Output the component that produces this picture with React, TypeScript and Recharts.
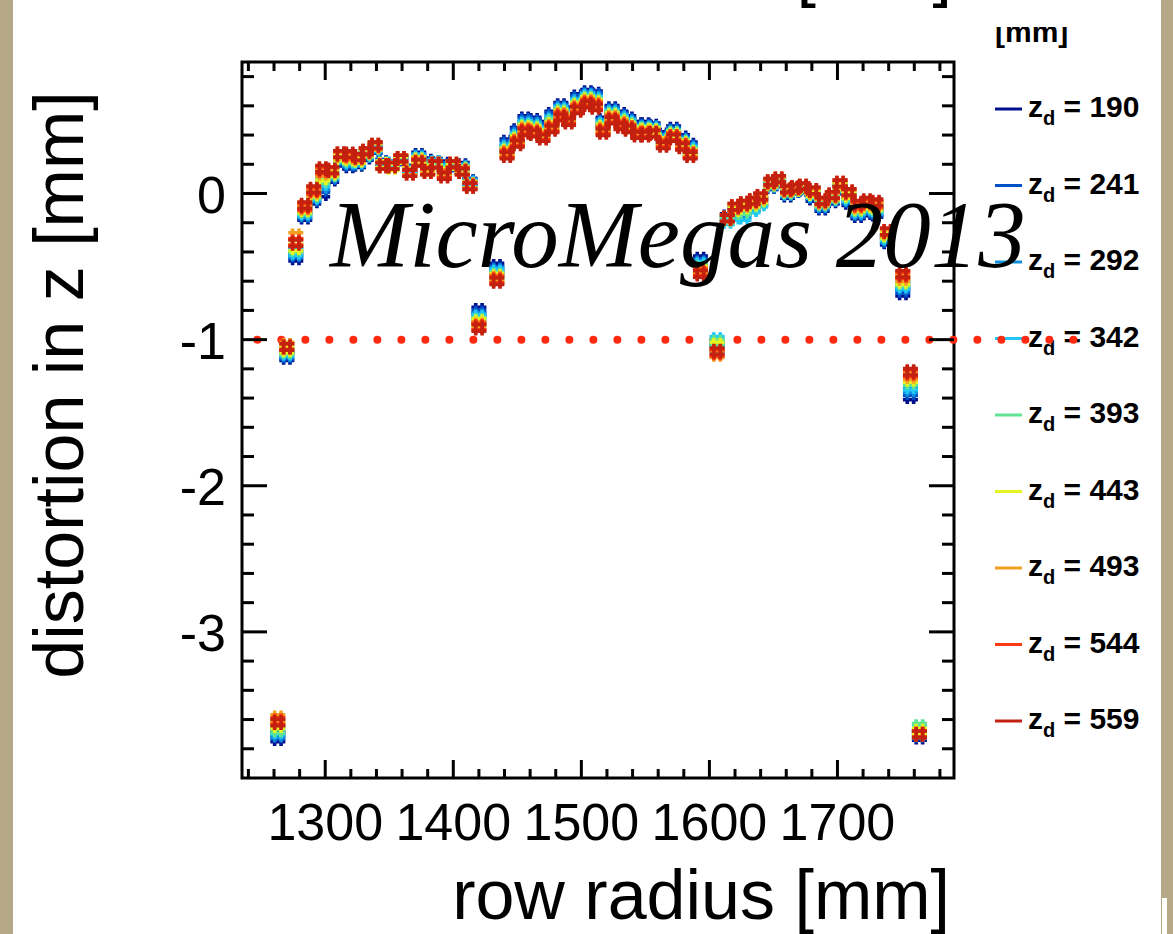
import { ScatterChart, Scatter, XAxis, YAxis, ReferenceLine, ReferenceArea } from 'recharts';

// pad-row radius [mm], shared by all drift distances
const radius = [
  1263, 1270, 1277, 1284, 1291, 1298, 1305, 1312, 1319, 1326, 1332, 1339, 1345, 1352, 1359, 1366, 1373, 1380, 1386, 1393, 1400, 1407, 1413,
  1420, 1434,
  1442, 1450, 1456, 1463, 1470, 1477, 1484, 1490, 1497, 1505, 1511, 1517, 1524, 1531, 1537, 1544, 1550, 1556, 1564, 1572, 1579, 1585,
  1593, 1606,
  1614, 1620, 1627, 1634, 1640, 1648, 1654, 1661, 1667, 1673, 1681, 1688, 1696, 1702, 1709, 1716, 1723, 1730,
  1739, 1751, 1757, 1764,
];

// distortion in z [mm] per drift distance z_d
const zd190 = [
  -3.73, -1.12, -0.44, -0.16, -0.05, 0.0, 0.1, 0.21, 0.19, 0.2, 0.25, 0.3, 0.21, 0.2, 0.22, 0.17, 0.26, 0.22, 0.21, 0.2, 0.18, 0.19, 0.08,
  -0.8, -0.5,
  0.35, 0.43, 0.51, 0.5, 0.47, 0.54, 0.6, 0.57, 0.66, 0.69, 0.68, 0.5, 0.58, 0.54, 0.51, 0.47, 0.47, 0.46, 0.4, 0.44, 0.38, 0.33,
  -0.45, -1.06,
  -0.16, -0.12, -0.1, -0.08, -0.05, 0.05, 0.07, -0.01, 0.02, 0.03, -0.03, -0.1, -0.05, 0.02, -0.06, -0.15, -0.13, -0.14,
  -0.33, -0.68, -1.39, -3.72,
];
const zd241 = [
  -3.71, -1.11, -0.42, -0.15, -0.04, 0.03, 0.11, 0.22, 0.2, 0.21, 0.26, 0.3, 0.21, 0.19, 0.22, 0.17, 0.25, 0.21, 0.21, 0.19, 0.18, 0.18, 0.08,
  -0.82, -0.52,
  0.34, 0.42, 0.5, 0.49, 0.46, 0.53, 0.59, 0.56, 0.65, 0.68, 0.67, 0.49, 0.57, 0.53, 0.5, 0.46, 0.46, 0.45, 0.39, 0.43, 0.37, 0.32,
  -0.47, -1.04,
  -0.17, -0.13, -0.12, -0.09, -0.06, 0.05, 0.07, 0.0, 0.02, 0.03, -0.02, -0.09, -0.04, 0.03, -0.05, -0.14, -0.12, -0.13,
  -0.32, -0.66, -1.36, -3.71,
];
const zd292 = [
  -3.7, -1.1, -0.41, -0.14, -0.03, 0.05, 0.12, 0.23, 0.21, 0.21, 0.26, 0.31, 0.2, 0.19, 0.23, 0.16, 0.25, 0.2, 0.21, 0.18, 0.19, 0.18, 0.07,
  -0.84, -0.53,
  0.32, 0.4, 0.48, 0.47, 0.44, 0.51, 0.58, 0.55, 0.63, 0.67, 0.65, 0.48, 0.56, 0.52, 0.49, 0.45, 0.45, 0.45, 0.38, 0.42, 0.36, 0.31,
  -0.48, -1.02,
  -0.18, -0.14, -0.14, -0.1, -0.06, 0.06, 0.08, 0.0, 0.03, 0.04, -0.01, -0.08, -0.04, 0.03, -0.04, -0.13, -0.11, -0.12,
  -0.31, -0.64, -1.34, -3.7,
];
const zd342 = [
  -3.68, -1.09, -0.4, -0.13, -0.02, 0.07, 0.13, 0.24, 0.22, 0.22, 0.27, 0.31, 0.2, 0.2, 0.23, 0.16, 0.24, 0.19, 0.21, 0.17, 0.19, 0.17, 0.07,
  -0.85, -0.54,
  0.31, 0.39, 0.47, 0.46, 0.43, 0.5, 0.57, 0.54, 0.62, 0.66, 0.64, 0.47, 0.55, 0.51, 0.48, 0.44, 0.44, 0.44, 0.37, 0.41, 0.35, 0.3,
  -0.49, -1.0,
  -0.19, -0.16, -0.16, -0.11, -0.07, 0.06, 0.08, 0.01, 0.03, 0.04, -0.01, -0.07, -0.03, 0.04, -0.03, -0.12, -0.1, -0.11,
  -0.3, -0.63, -1.32, -3.66,
];
const zd393 = [
  -3.67, -1.08, -0.38, -0.12, -0.01, 0.09, 0.13, 0.24, 0.23, 0.23, 0.27, 0.32, 0.2, 0.19, 0.23, 0.15, 0.23, 0.18, 0.2, 0.16, 0.19, 0.17, 0.06,
  -0.87, -0.56,
  0.3, 0.38, 0.46, 0.45, 0.42, 0.49, 0.56, 0.53, 0.61, 0.65, 0.63, 0.46, 0.54, 0.5, 0.47, 0.44, 0.44, 0.43, 0.36, 0.41, 0.35, 0.29,
  -0.51, -1.02,
  -0.18, -0.13, -0.12, -0.08, -0.05, 0.06, 0.08, 0.01, 0.03, 0.04, 0.0, -0.07, -0.03, 0.05, -0.02, -0.11, -0.09, -0.1,
  -0.29, -0.61, -1.29, -3.65,
];
const zd443 = [
  -3.64, -1.07, -0.37, -0.11, 0.0, 0.11, 0.14, 0.25, 0.24, 0.23, 0.28, 0.32, 0.2, 0.18, 0.23, 0.15, 0.23, 0.17, 0.2, 0.15, 0.19, 0.16, 0.06,
  -0.88, -0.57,
  0.29, 0.37, 0.45, 0.44, 0.41, 0.47, 0.55, 0.52, 0.6, 0.64, 0.62, 0.45, 0.53, 0.49, 0.46, 0.43, 0.43, 0.43, 0.36, 0.4, 0.34, 0.28,
  -0.52, -1.04,
  -0.17, -0.11, -0.09, -0.07, -0.04, 0.07, 0.09, 0.02, 0.03, 0.04, 0.0, -0.06, -0.02, 0.05, -0.01, -0.1, -0.08, -0.09,
  -0.28, -0.6, -1.27, -3.68,
];
const zd493 = [
  -3.59, -1.04, -0.29, -0.1, 0.01, 0.14, 0.15, 0.26, 0.25, 0.24, 0.28, 0.32, 0.19, 0.19, 0.24, 0.15, 0.22, 0.16, 0.2, 0.14, 0.2, 0.16, 0.06,
  -0.9, -0.58,
  0.28, 0.36, 0.44, 0.43, 0.4, 0.46, 0.54, 0.51, 0.59, 0.63, 0.61, 0.44, 0.52, 0.48, 0.45, 0.42, 0.42, 0.42, 0.35, 0.39, 0.33, 0.27,
  -0.53, -1.1,
  -0.17, -0.1, -0.08, -0.06, -0.03, 0.07, 0.09, 0.02, 0.04, 0.05, 0.01, -0.06, -0.02, 0.06, 0.0, -0.09, -0.07, -0.08,
  -0.27, -0.58, -1.25, -3.7,
];
const zd544 = [
  -3.61, -1.05, -0.33, -0.09, 0.02, 0.16, 0.16, 0.27, 0.26, 0.25, 0.29, 0.33, 0.19, 0.19, 0.24, 0.14, 0.21, 0.15, 0.2, 0.13, 0.2, 0.15, 0.05,
  -0.91, -0.59,
  0.27, 0.35, 0.43, 0.42, 0.39, 0.45, 0.53, 0.5, 0.58, 0.62, 0.6, 0.43, 0.51, 0.47, 0.45, 0.41, 0.41, 0.41, 0.34, 0.39, 0.33, 0.27,
  -0.54, -1.09,
  -0.17, -0.09, -0.07, -0.05, -0.02, 0.08, 0.1, 0.03, 0.04, 0.05, 0.02, -0.05, -0.01, 0.07, 0.01, -0.08, -0.06, -0.07,
  -0.26, -0.56, -1.23, -3.7,
];
const zd559 = [
  -3.62, -1.05, -0.34, -0.08, 0.03, 0.17, 0.16, 0.27, 0.27, 0.25, 0.29, 0.33, 0.19, 0.19, 0.24, 0.14, 0.21, 0.15, 0.2, 0.12, 0.2, 0.15, 0.05,
  -0.92, -0.6,
  0.26, 0.34, 0.42, 0.41, 0.38, 0.44, 0.52, 0.49, 0.57, 0.61, 0.59, 0.42, 0.5, 0.46, 0.44, 0.4, 0.4, 0.41, 0.33, 0.38, 0.32, 0.26,
  -0.55, -1.08,
  -0.17, -0.09, -0.07, -0.05, -0.02, 0.08, 0.1, 0.03, 0.04, 0.05, 0.02, -0.05, -0.01, 0.07, 0.01, -0.07, -0.05, -0.06,
  -0.26, -0.55, -1.22, -3.7,
];

const driftLabels = ['190', '241', '292', '342', '393', '443', '493', '544', '559'];
const driftColors = ['#00108c', '#0050c8', '#1090dc', '#20c8f8', '#60e494', '#e4f420', '#f0a020', '#ff3a10', '#c42010'];
const driftValues = [zd190, zd241, zd292, zd342, zd393, zd443, zd493, zd544, zd559];

const xTicks = [
  1240, 1260, 1280, 1300, 1320, 1340, 1360, 1380, 1400, 1420, 1440, 1460, 1480, 1500, 1520, 1540, 1560, 1580,
  1600, 1620, 1640, 1660, 1680, 1700, 1720, 1740, 1760, 1780,
];
const yTicks = [
  -3.8, -3.6, -3.4, -3.2, -3, -2.8, -2.6, -2.4, -2.2, -2, -1.8, -1.6, -1.4, -1.2, -1, -0.8, -0.6, -0.4, -0.2,
  0, 0.2, 0.4, 0.6, 0.8,
];
const cutLevel = -1;

const SANS = '"Liberation Sans", Arial, Helvetica, sans-serif';
const W = 1148;
const H = 934;
const PLOT_TOP = 62;
const PLOT_RIGHT = 941;

const isMajor = (v: number, step: number) => Math.abs(v / step - Math.round(v / step)) < 1e-6;

function XTick({ x, y, payload }: any) {
  const major = isMajor(payload.value, 100);
  const len = major ? 18 : 9;
  return (
    <g>
      <line x1={x} x2={x} y1={y} y2={y - len} stroke="#000" strokeWidth={3} />
      <line x1={x} x2={x} y1={PLOT_TOP} y2={PLOT_TOP + len} stroke="#000" strokeWidth={3} />
      {major && (
        <text x={x} y={y + 62} textAnchor="middle" fontSize={52} fontFamily={SANS} fill="#000">
          {payload.value}
        </text>
      )}
    </g>
  );
}

function YTick({ x, y, payload }: any) {
  const major = isMajor(payload.value, 1);
  const len = major ? 25 : 12;
  return (
    <g>
      <line x1={x} x2={x + len} y1={y} y2={y} stroke="#000" strokeWidth={3} />
      <line x1={PLOT_RIGHT} x2={PLOT_RIGHT - len} y1={y} y2={y} stroke="#000" strokeWidth={3} />
      {major && (
        <text x={x - 16} y={y + 19} textAnchor="end" fontSize={52} fontFamily={SANS} fill="#000">
          {String(Math.round(payload.value))}
        </text>
      )}
    </g>
  );
}

// '#'-like marker, as in the original plotting style
const hashMarker = (color: string) => (props: any) => {
  const { cx, cy } = props;
  if (cx == null || cy == null) return <g />;
  const a = 7.5;
  const b = 3.2;
  const d =
    `M${cx - a} ${cy - b}H${cx + a}M${cx - a} ${cy + b}H${cx + a}` +
    `M${cx - b} ${cy - a}V${cy + a}M${cx + b} ${cy - a}V${cy + a}`;
  return <path d={d} stroke={color} strokeWidth={3.6} fill="none" />;
};

function DriftLegend() {
  return (
    <svg width={1173} height={934} style={{ position: 'absolute', left: 0, top: 0 }}>
      {driftLabels.map((lab, i) => {
        const y = 109 + i * 76.5;
        return (
          <g key={lab}>
            <line x1={995} x2={1022} y1={y} y2={y} stroke={driftColors[i]} strokeWidth={3} />
            <text x={1028} y={y + 8} fontSize={30} fontWeight="bold" fontFamily={SANS} fill="#000">
              z
              <tspan fontSize={20} dy={8}>d</tspan>
              <tspan dy={-8}>{` = ${lab}`}</tspan>
            </text>
          </g>
        );
      })}
    </svg>
  );
}

export default function App() {
  return (
    <div style={{ position: 'absolute', left: 0, top: 0, width: 1173, height: 934, background: '#b4a886', overflow: 'hidden' }}>
      <div style={{ position: 'absolute', left: 13, top: 0, width: W, height: H, background: '#fff' }} />
      <div style={{ position: 'absolute', left: 1162, top: 898, width: 5, height: 36, background: '#fff' }} />

      <DriftLegend />
      <svg width={120} height={30} style={{ position: 'absolute', left: 990, top: 27 }}>
        <text x={5} y={15} fontSize={30} fontWeight="bold" fontFamily={SANS} fill="#000">[mm]</text>
      </svg>

      <div style={{ position: 'absolute', left: 13, top: 0 }}>
        <ScatterChart width={W} height={H} margin={{ top: PLOT_TOP, right: W - PLOT_RIGHT, bottom: 0, left: 0 }}>
          <XAxis
            type="number"
            dataKey="r"
            domain={[1235, 1791]}
            allowDataOverflow
            ticks={xTicks}
            interval={0}
            height={156}
            tickSize={0}
            tickMargin={0}
            tickLine={false}
            axisLine={false}
            tick={<XTick />}
          />
          <YAxis
            type="number"
            dataKey="dz"
            domain={[-4, 0.9]}
            allowDataOverflow
            ticks={yTicks}
            interval={0}
            width={229}
            tickSize={0}
            tickMargin={0}
            tickLine={false}
            axisLine={false}
            tick={<YTick />}
          />
          {driftValues.map((vals, i) => (
            <Scatter
              key={driftLabels[i]}
              name={`z_d = ${driftLabels[i]}`}
              data={radius.map((r, j) => ({ r, dz: vals[j] }))}
              fill={driftColors[i]}
              shape={hashMarker(driftColors[i])}
              isAnimationActive={false}
            />
          ))}
          <ReferenceArea x1={1235} x2={1791} y1={-4} y2={0.9} fill="none" stroke="#000" strokeWidth={3} ifOverflow="visible" />
          <ReferenceLine
            segment={[{ x: 1247, y: cutLevel }, { x: 1890, y: cutLevel }]}
            ifOverflow="visible"
            stroke="#ff2a10"
            strokeWidth={8}
            strokeDasharray="0 24"
            strokeLinecap="round"
          />
        </ScatterChart>
      </div>

      <svg width={1173} height={934} style={{ position: 'absolute', left: 0, top: 0, pointerEvents: 'none' }}>
        <text x={952} y={-7} textAnchor="end" fontSize={70} fontFamily={SANS} fill="#000">[mm]</text>
        <text
          x={83}
          y={385}
          transform="rotate(-90 83 385)"
          textAnchor="middle"
          fontSize={70}
          fontFamily={SANS}
          fill="#000"
        >
          distortion in z [mm]
        </text>
        <text x={950} y={919} textAnchor="end" fontSize={70} fontFamily={SANS} fill="#000">
          row radius [mm]
        </text>
        <text x={330} y={267} fontSize={95} fontStyle="italic" fontFamily='"Liberation Serif", "Times New Roman", serif' fill="#000">
          MicroMegas 2013
        </text>
      </svg>
    </div>
  );
}
